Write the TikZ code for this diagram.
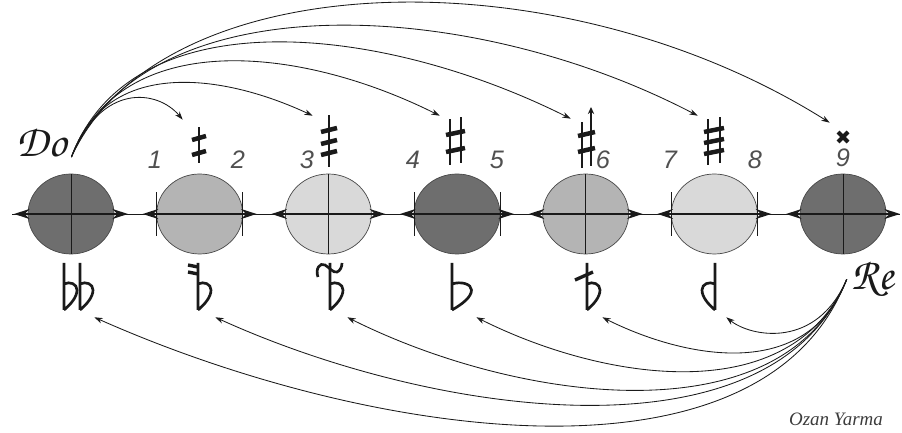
\documentclass[tikz,border=0pt]{standalone}
\usepackage[T1]{fontenc}
\usepackage{fontspec}
\usepackage{tikz}
\usetikzlibrary{arrows.meta}
\newfontfamily\numfont{Liberation Sans}
\newfontfamily\signfont{Liberation Serif}
\newcommand{\chancery}{\usefont{T1}{pzc}{mb}{it}}
\definecolor{ink}{HTML}{1A1A1A}
\definecolor{dark}{HTML}{6E6E6E}
\definecolor{mid}{HTML}{B4B4B4}
\definecolor{pale}{HTML}{D9D9D9}
\definecolor{numgray}{HTML}{505050}

\begin{document}
\begin{tikzpicture}[x=0.025cm,y=0.025cm,
  glyph/.style={line width=1.9pt,ink},
  bar/.style={line width=3.2pt,ink},
  sharpbox/.style={minimum width=0.8cm,minimum height=1.25cm,inner sep=0pt},
  xbox/.style={minimum width=0.65cm,minimum height=0.7cm,inner sep=0pt},
  flatbox/.style={minimum width=0.75cm,minimum height=1.5cm,inner sep=0pt},
  link/.style={line width=0.6pt,ink,-{Stealth[length=6pt,width=4pt]}},
  axis/.style={line width=2pt,ink,{Stealth[length=11pt,width=7pt]}-{Stealth[length=11pt,width=7pt]}},
  num/.style={font=\numfont\itshape\fontsize{18}{18}\selectfont,text=numgray},
  solfa/.style={font=\chancery\fontsize{32}{32}\selectfont,text=ink},
  flatglyph/.pic={\draw[glyph] (0,-23) -- (0,24) (0,-23) .. controls (7,-17) and (13,-10) .. (13,-3) .. controls (13,3) and (6,6) .. (0,3);}]
\useasboundingbox (0,0) rectangle (902,433);

% the row of steps
\draw[line width=0.7pt,ink] (12,219) -- (900,219);
\foreach \i/\col in {0/dark,1/mid,2/pale,3/dark,4/mid,5/pale,6/dark}
  \path[fill=\col,draw=ink!80,line width=0.5pt] (71+128.67*\i,219) ellipse [x radius=43,y radius=40];
\foreach \i in {0,2,4,6}
  \draw[line width=0.6pt,ink] (71+128.67*\i,179) -- (71+128.67*\i,259);
\foreach \i in {1,3,5}
  \draw[line width=0.6pt,ink] (71+128.67*\i-43,197) -- +(0,44) (71+128.67*\i+43,197) -- +(0,44);
\foreach \i in {0,...,6}
  \draw[axis] (71+128.67*\i-57,219) -- (71+128.67*\i+57,219);

% commas
\node[num] (n1) at (155,273) {1};
\node[num] (n2) at (238,273) {2};
\node[num] (n3) at (307,273) {3};
\node[num] (n4) at (413,273) {4};
\node[num] (n5) at (497,273) {5};
\node[num] (n6) at (603,273) {6};
\node[num] (n7) at (670,273) {7};
\node[num] (n8) at (755,273) {8};
\node[num] (n9) at (843,275) {9};

% sharps
\node[sharpbox] (s1) at (199,288) {};
\node[sharpbox] (s2) at (329,292) {};
\node[sharpbox] (s3) at (456,292) {};
\node[sharpbox] (s4) at (587,289) {};
\node[sharpbox] (s5) at (714,292) {};
\node[xbox] (s6) at (843,296) {};
\begin{scope}[shift={(s1)}]
\draw[glyph] (0,-18) -- (0,18);
\draw[bar] (-7,5) -- (7,9) (-7,-10) -- (7,-6);
\end{scope}
\begin{scope}[shift={(s2)}]
\draw[glyph] (0,-26) -- (0,26);
\draw[bar] (-8,9) -- (8,13) (-8,-3) -- (8,1) (-8,-14) -- (8,-10);
\end{scope}
\begin{scope}[shift={(s3)}]
\draw[glyph] (-6,-24) -- (-6,22) (5,-22) -- (5,24);
\draw[bar] (-10,6) -- (9,10) (-10,-11) -- (9,-7);
\end{scope}
\begin{scope}[shift={(s4)}]
\draw[glyph] (-5,-24) -- (-5,22);
\draw[glyph,-{Stealth[length=5pt,width=4.5pt]}] (4,-22) -- (4,37);
\draw[bar] (-9,8) -- (8,12) (-9,-8) -- (8,-4);
\end{scope}
\begin{scope}[shift={(s5)}]
\draw[glyph] (-6,-24) -- (-6,22) (6,-22) -- (6,24);
\draw[bar] (-10,9) -- (10,13) (-10,-2) -- (10,2) (-10,-13) -- (10,-9);
\end{scope}
\begin{scope}[shift={(s6)}]
\draw[bar,line width=2.8pt] (-5,-5) -- (5,5) (-5,5) -- (5,-5);
\end{scope}

% flats
\node[flatbox] (f1) at (79,146) {};
\node[flatbox] (f2) at (200,146) {};
\node[flatbox] (f3) at (332,146) {};
\node[flatbox] (f4) at (461,146) {};
\node[flatbox] (f5) at (587,146) {};
\node[flatbox] (f6) at (711,146) {};
\begin{scope}[shift={(f1)}]
\pic at (-15,0) {flatglyph};
\pic at (1,0) {flatglyph};
\end{scope}
\begin{scope}[shift={(f2)}]
\pic at (-2,0) {flatglyph};
\draw[bar,line width=2.4pt] (-12,22) -- (-2,20) (-12,15) -- (-2,13);
\end{scope}
\begin{scope}[shift={(f3)}]
\pic at (-2,0) {flatglyph};
\draw[glyph] (-14,10) .. controls (-17,18) and (-12,25) .. (-7,22) .. controls (-2,19) and (1,14) .. (5,15) .. controls (8,16) and (10,20) .. (10,24);
\end{scope}
\begin{scope}[shift={(f4)}]
\pic[xscale=1.5] at (-9,0) {flatglyph};
\end{scope}
\begin{scope}[shift={(f5)}]
\pic at (0,0) {flatglyph};
\draw[bar,line width=2.4pt] (-12,7) -- (6,15);
\end{scope}
\begin{scope}[shift={(f6)}]
\pic[xscale=-1] at (4,0) {flatglyph};
\end{scope}

% Do and Re
\node[solfa,anchor=base west] (do) at (12,276) {Do};
\node[solfa,anchor=base east] (re) at (899,143) {Re};

\draw[link] (do.base east) .. controls +(30,75) and +(-25,30) .. (s1.north west);
\draw[link] (do.base east) .. controls +(35,100) and +(-90,42) .. (s2.north west);
\draw[link] (do.base east) .. controls +(50,130) and +(-140,70) .. (s3.north west);
\draw[link] (do.base east) .. controls +(60,160) and +(-190,95) .. (s4.north west);
\draw[link] (do.base east) .. controls +(75,175) and +(-230,120) .. (s5.north west);
\draw[link] (do.base east) .. controls +(90,195) and +(-270,170) .. (s6.north west);

\draw[link] (re.west) .. controls +(-30,-70) and +(25,-20) .. (f6.south east);
\draw[link] (re.west) .. controls +(-40,-105) and +(80,-40) .. (f5.south east);
\draw[link] (re.west) .. controls +(-55,-130) and +(130,-65) .. (f4.south east);
\draw[link] (re.west) .. controls +(-65,-160) and +(170,-85) .. (f3.south east);
\draw[link] (re.west) .. controls +(-75,-185) and +(220,-100) .. (f2.south east);
\draw[link] (re.west) .. controls +(-85,-220) and +(270,-120) .. (f1.south east);

\node[anchor=base,font=\signfont\itshape\fontsize{13.5}{15}\selectfont,text=ink!85] (sign) at (836,7) {Ozan Yarma};
\end{tikzpicture}
\end{document}
